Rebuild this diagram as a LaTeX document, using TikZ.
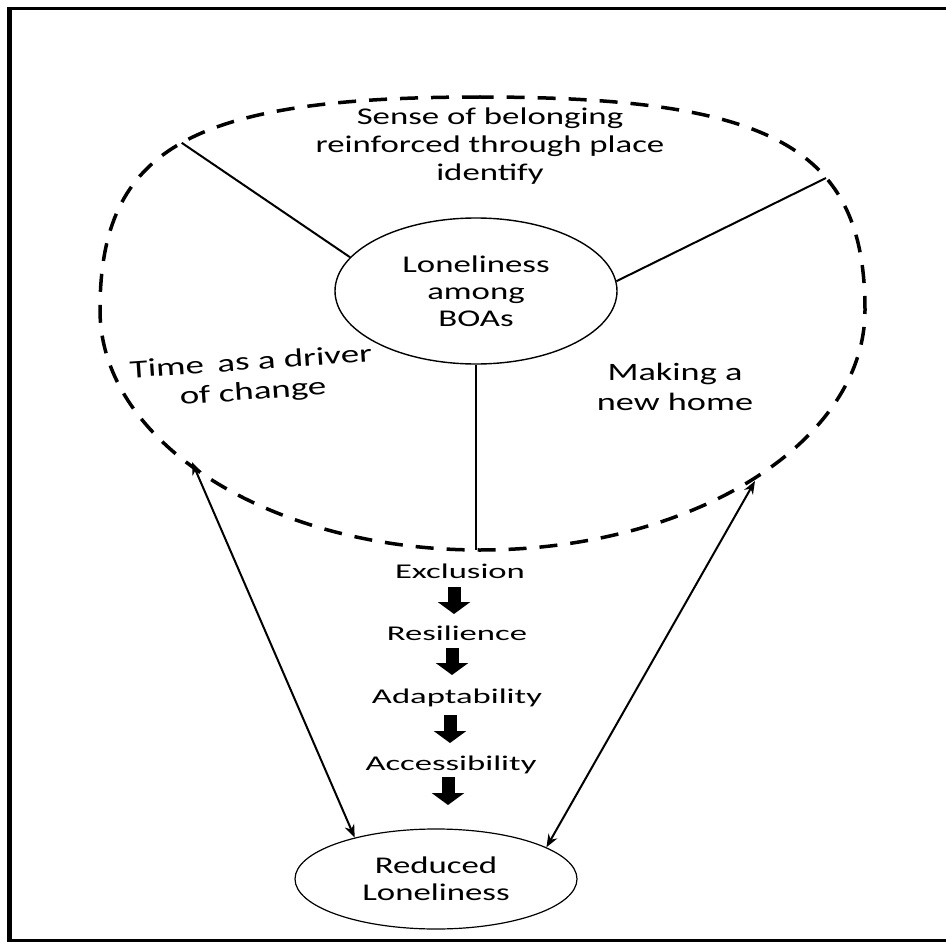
\documentclass[tikz,border=0pt]{standalone}
\usepackage{fontspec}
\setmainfont{Carlito}[FakeStretch=1.45]
\newfontfamily\widefont{Carlito}[FakeStretch=1.65]
\usetikzlibrary{arrows.meta,shapes.geometric}
\begin{document}
\begin{tikzpicture}[x=1pt,y=-1pt,
  lbl/.style={align=center,inner sep=0pt,font=\fontsize{24}{28}\selectfont},
  steplbl/.style={anchor=base,inner sep=0pt,font=\widefont\fontsize{21}{25}\selectfont},
  oval/.style={draw,ellipse,line width=1.4pt,inner sep=0pt,align=center,
               font=\fontsize{24}{27}\selectfont},
  spoke/.style={line width=2pt},
  link/.style={line width=2pt,{Stealth[length=13pt,width=10pt]}-{Stealth[length=13pt,width=10pt]}},
  flow/.style={line width=13pt,-{Triangle[length=12pt,width=32pt]}},
  ring/.style={line width=3.5pt,dash pattern=on 18pt off 13pt}]
\useasboundingbox (0,0) rectangle (946,942);

% outer frame (open on the right)
\draw[line width=5pt] (9.5,942) -- (9.5,7);
\draw[line width=3.5pt] (7,8.5) -- (946,8.5);
\draw[line width=3pt] (7,940.5) -- (946,940.5);

% dashed boundary of the themes
\draw[ring] (480,97) .. controls (191.2,97) and (100,148.1) .. (100,310)
  .. controls (100,442.5) and (270.2,550) .. (480,550)
  .. controls (692.5,550) and (865,442.5) .. (865,310)
  .. controls (865,148.1) and (772.6,97) .. (480,97);

% points on the dashed boundary
\coordinate (tl) at (181.7,142.8);
\coordinate (tr) at (826,178);
\coordinate (bot) at (477,550);
\coordinate (ll) at (192,462);
\coordinate (lr) at (755,481);

% central and final ovals
\node[oval,minimum width=282pt,minimum height=146pt] (core) at (476,291)
  {Loneliness\\among\\BOAs};
\node[oval,line width=1.2pt,minimum width=282pt,minimum height=100pt] (goal) at (436,879)
  {Reduced\\Loneliness};

% spokes to the dashed boundary
\draw[spoke] (core.165) -- (tl);
\draw[spoke] (core.4) -- (tr);
\draw[spoke] (core.south) -- (core.south |- bot);

% theme labels
\node[lbl] (sense) at (490,146.5) {Sense of belonging\\reinforced through place\\identify};
\node[lbl,font=\fontsize{25.5}{30}\selectfont,rotate=4] (time) at (252,378) {Time\kern5pt\ as a driver\\of change};
\node[lbl,font=\fontsize{25}{30}\selectfont] (home) at (675,386.5) {Making a\\new home};

% long connectors to the outcome
\draw[link] (ll) -- (goal.153);
\draw[link] (lr) -- (goal.16);

% sequence of stages
\node[steplbl] (exc) at (460,578) {Exclusion};
\node[steplbl] (res) at (457,640) {Resilience};
\node[steplbl] (ada) at (457,703) {Adaptability};
\node[steplbl] (acc) at (451,770) {Accessibility};

\coordinate (f1a) at (454,587);  \coordinate (f1b) at (454,614);
\coordinate (f2a) at (452,648);  \coordinate (f2b) at (452,675);
\coordinate (f3a) at (450,715);  \coordinate (f3b) at (450,743);
\coordinate (f4a) at (448,777);  \coordinate (f4b) at (448,805);
\draw[flow] (f1a) -- (f1b);
\draw[flow] (f2a) -- (f2b);
\draw[flow] (f3a) -- (f3b);
\draw[flow] (f4a) -- (f4b);
\end{tikzpicture}
\end{document}
